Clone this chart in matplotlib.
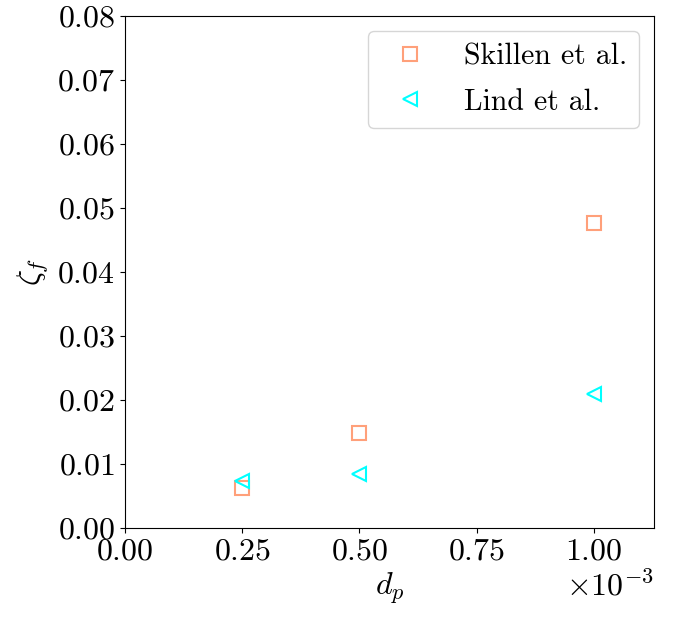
import numpy as np
import matplotlib
matplotlib.use("Agg")
import matplotlib.pyplot as plt

plt.rcParams['font.family'] = 'serif'
plt.rcParams['font.serif'] = ['cmr10']
plt.rcParams['mathtext.fontset'] = 'cm'
plt.rcParams['axes.formatter.use_mathtext'] = True
plt.rcParams['font.size'] = 23

# particle diameter and zeta_f values
dp_skillen = [0.25e-3, 0.5e-3, 1.0e-3]
zeta_skillen = [0.0063, 0.0149, 0.0477]
dp_lind = [0.25e-3, 0.5e-3, 1.0e-3]
zeta_lind = [0.0074, 0.0085, 0.0210]

fig = plt.figure(figsize=(6.76, 6.17), dpi=100)
ax = fig.add_axes([125 / 676, 89 / 617, 529 / 676, 512 / 617])

ax.plot(dp_skillen, zeta_skillen, 's', ms=10, mfc='none', mec='#FFA07A',
        mew=1.5, label='Skillen et al.')
ax.plot(dp_lind, zeta_lind, '<', ms=10, mfc='none', mec='#00FFFF',
        mew=1.5, label='Lind et al.')

ax.set_xlim(0, 1.128e-3)
ax.set_ylim(0, 0.08)
ax.set_xticks([0, 0.25e-3, 0.5e-3, 0.75e-3, 1.0e-3])
ax.ticklabel_format(axis='x', style='sci', scilimits=(0, 0))
ax.set_xlabel(r'$d_p$')
ax.set_ylabel(r'$\zeta_f$')
ax.legend(loc='upper right', fontsize=21.5, labelspacing=0.6)

fig.savefig('out.png', dpi=100)
